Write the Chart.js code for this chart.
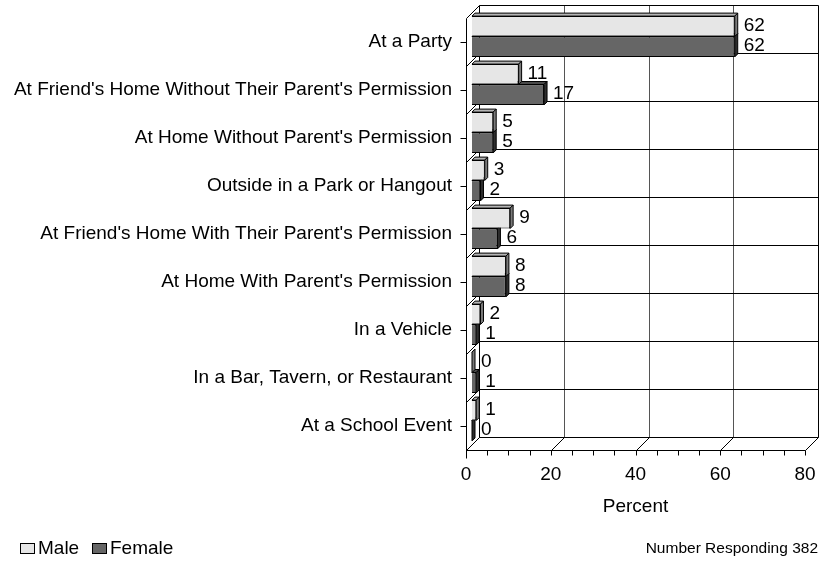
<!DOCTYPE html>
<html>
<head>
<meta charset="utf-8">
<script src="https://cdn.jsdelivr.net/npm/chart.js@4.4.1/dist/chart.umd.min.js"></script>
<style>
  html, body { margin: 0; padding: 0; background: #fff; }
</style>
</head>
<body>
<canvas id="chart" width="820" height="562"></canvas>
<script>
// data
const categories = [
    'At a Party',
    "At Friend's Home Without Their Parent's Permission",
    "At Home Without Parent's Permission",
    'Outside in a Park or Hangout',
    "At Friend's Home With Their Parent's Permission",
    "At Home With Parent's Permission",
    'In a Vehicle',
    'In a Bar, Tavern, or Restaurant',
    'At a School Event'
];
const maleValues = [62, 11, 5, 3, 9, 8, 2, 0, 1];
const femaleValues = [62, 17, 5, 2, 6, 8, 1, 1, 0];
const seriesNames = ['Male', 'Female'];
const xTicks = [0, 20, 40, 60, 80];
const footNote = 'Number Responding 382';

const FONT = '"Liberation Sans", Arial, sans-serif';
const FS = 19;
const DEPTH = 13;            // floor / wall depth
const BAR_SHIFT = { x: 6, y: -5.5 };  // bars sit mid-depth
const BAR_D = 3;             // bar thickness in depth
const colors = [
    { front: '#e6e6e6', top: '#b4b4b4', side: '#7a7a7a' },
    { front: '#666666', top: '#4a4a4a', side: '#2e2e2e' }
];

function line(ctx, x1, y1, x2, y2) {
    ctx.beginPath();
    ctx.moveTo(x1, y1);
    ctx.lineTo(x2, y2);
    ctx.stroke();
}

/**
 * 3D風の壁・床・棒の側面を描く
 */
const threeD = {
    id: 'threeD',
    beforeDatasetsDraw(chart) {
        const ctx = chart.ctx;
        const xs = chart.scales.x, ys = chart.scales.y;
        const { left, right, top, bottom } = chart.chartArea;
        const L = Math.round(left) + 0.5, R = Math.round(right) + 0.5;
        const T = Math.round(top) + 0.5, B = Math.round(bottom) + 0.5;
        const D = DEPTH;
        const band = Math.abs(ys.getPixelForValue(1) - ys.getPixelForValue(0));
        const y0 = ys.getPixelForValue(0) - band / 2;

        ctx.save();
        ctx.lineWidth = 1;

        // back wall vertical grid
        ctx.strokeStyle = '#555';
        xTicks.forEach(v => {
            const px = Math.round(xs.getPixelForValue(v)) + 0.5;
            if (v > 0 && v < 80) line(ctx, px + D, T - D, px + D, B - D);
        });

        ctx.strokeStyle = '#000';
        // category boundaries on back wall + side wall
        for (let k = 0; k <= categories.length; k++) {
            const yf = Math.round(y0 + k * band) + 0.5;
            line(ctx, L + D, yf - D, R + D, yf - D);
            line(ctx, L, yf, L + D, yf - D);
        }
        // walls' edges
        line(ctx, L + D, T - D, L + D, B - D);
        line(ctx, R + D, T - D, R + D, B - D);
        line(ctx, L, T, L, B + 8);
        line(ctx, L, B, R, B);
        // floor diagonals at major ticks
        xTicks.forEach(v => {
            const px = Math.round(xs.getPixelForValue(v)) + 0.5;
            line(ctx, px, B, px + D, B - D);
        });
        // minor ticks every 5
        for (let v = 5; v <= 80; v += 5) {
            const px = Math.round(xs.getPixelForValue(v)) + 0.5;
            line(ctx, px, B, px, B + 5);
        }
        // category ticks
        categories.forEach((c, i) => {
            const py = Math.round(ys.getPixelForValue(i)) + 0.5;
            line(ctx, L - 6, py, L, py);
        });
        ctx.restore();

        // bars: side + top faces, lower series first
        ctx.save();
        ctx.translate(BAR_SHIFT.x, BAR_SHIFT.y);
        ctx.lineWidth = 1;
        ctx.strokeStyle = '#000';
        [1, 0].forEach(di => {
            const meta = chart.getDatasetMeta(di);
            meta.data.forEach(el => {
                const p = el.getProps(['x', 'y', 'base', 'height'], true);
                const l = Math.min(p.x, p.base), r = Math.max(p.x, p.base);
                const t = p.y - p.height / 2, b = p.y + p.height / 2;
                const d = BAR_D;
                ctx.fillStyle = colors[di].top;
                ctx.beginPath();
                ctx.moveTo(l, t); ctx.lineTo(l + d, t - d); ctx.lineTo(r + d, t - d); ctx.lineTo(r, t);
                ctx.closePath(); ctx.fill(); ctx.stroke();
                ctx.fillStyle = colors[di].side;
                ctx.beginPath();
                ctx.moveTo(r, t); ctx.lineTo(r + d, t - d); ctx.lineTo(r + d, b - d); ctx.lineTo(r, b);
                ctx.closePath(); ctx.fill(); ctx.stroke();
            });
        });
        // keep the shift for the library's own bar faces (restored afterwards)
    },
    afterDatasetsDraw(chart) {
        const ctx = chart.ctx;
        ctx.restore();

        // value labels
        ctx.save();
        ctx.fillStyle = '#000';
        ctx.font = FS + 'px ' + FONT;
        ctx.textAlign = 'left';
        ctx.textBaseline = 'middle';
        [0, 1].forEach(di => {
            const meta = chart.getDatasetMeta(di);
            const vals = chart.data.datasets[di].data;
            meta.data.forEach((el, i) => {
                const p = el.getProps(['x', 'y'], true);
                ctx.fillText(String(vals[i]), p.x + BAR_SHIFT.x + 9, p.y + BAR_SHIFT.y - 1);
            });
        });

        // legend
        const lx = [20, 92];
        seriesNames.forEach((n, i) => {
            ctx.fillStyle = colors[i].front;
            ctx.fillRect(lx[i] + 0.5, 543.5, 14, 10);
            ctx.strokeStyle = '#000';
            ctx.lineWidth = 1;
            ctx.strokeRect(lx[i] + 0.5, 543.5, 14, 10);
            ctx.fillStyle = '#000';
            ctx.fillText(n, lx[i] + 18, 549);
        });

        // footnote
        ctx.font = '15.5px ' + FONT;
        ctx.textAlign = 'right';
        ctx.fillText(footNote, 818, 549);
        ctx.restore();
    }
};

new Chart(document.getElementById('chart'), {
    type: 'bar',
    data: {
        labels: categories,
        datasets: [
            {
                label: seriesNames[0],
                data: maleValues,
                backgroundColor: colors[0].front,
                borderColor: '#000',
                borderWidth: 1,
                categoryPercentage: 0.85,
                barPercentage: 1.0
            },
            {
                label: seriesNames[1],
                data: femaleValues,
                backgroundColor: colors[1].front,
                borderColor: '#000',
                borderWidth: 1,
                categoryPercentage: 0.85,
                barPercentage: 1.0
            }
        ]
    },
    options: {
        indexAxis: 'y',
        responsive: false,
        animation: false,
        devicePixelRatio: 1,
        layout: { padding: { left: 0, top: 18, right: 15, bottom: 0 } },
        plugins: {
            legend: { display: false },
            tooltip: { enabled: false }
        },
        scales: {
            x: {
                min: 0,
                max: 80,
                grid: { display: false, drawTicks: false },
                border: { display: false },
                ticks: { stepSize: 20, padding: 13, color: '#000', font: { family: FONT, size: FS } },
                title: {
                    display: true,
                    text: 'Percent',
                    color: '#000',
                    font: { family: FONT, size: FS },
                    padding: { top: 0, bottom: 44 }
                },
                afterFit: s => { s.height = 112; s.paddingLeft = 0; s.paddingRight = 0; }
            },
            y: {
                grid: { display: false, drawTicks: false },
                border: { display: false },
                ticks: { padding: 14, color: '#000', font: { family: FONT, size: FS } },
                afterFit: s => { s.width = 466; s.paddingTop = 0; s.paddingBottom = 0; }
            }
        }
    },
    plugins: [threeD]
});
</script>
</body>
</html>
